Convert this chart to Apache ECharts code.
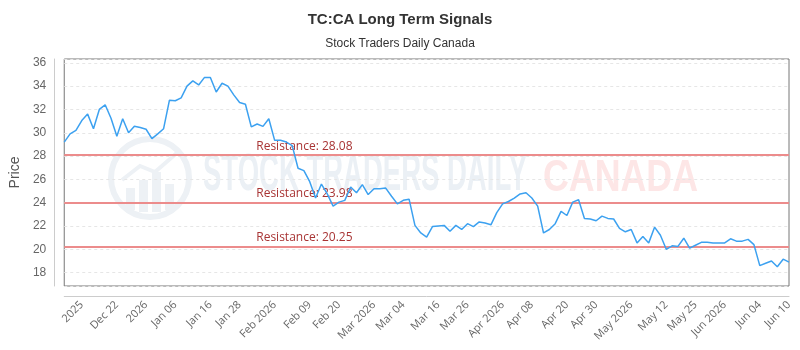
<!DOCTYPE html>
<html>
<head>
<meta charset="utf-8">
<script src="https://cdn.jsdelivr.net/npm/echarts@6/dist/echarts.min.js"></script>
<style>
html, body { margin: 0; padding: 0; background: #fff; }
#main { width: 800px; height: 350px; }
</style>
</head>
<body>
<div id="main"></div>
<script>
// 收盘价
const price = [
    29.2, 29.9, 30.2, 31.05, 31.6, 30.35, 32.0, 32.4, 31.25, 29.7,
    31.2, 30.0, 30.55, 30.45, 30.3, 29.5, 29.9, 30.35, 32.8, 32.75,
    33.0, 34.0, 34.45, 34.1, 34.75, 34.75, 33.5, 34.25, 34.0, 33.25,
    32.6, 32.45, 30.5, 30.75, 30.55, 31.2, 29.35, 29.35, 29.2, 28.9,
    26.95, 26.75, 25.8, 24.4, 25.6, 24.75, 23.7, 24.05, 24.2, 25.35,
    24.85, 25.55, 24.7, 25.2, 25.2, 25.25, 24.55, 23.9, 24.2, 24.3,
    22.05, 21.4, 21.05, 21.95, 22.0, 22.05, 21.55, 22.05, 21.7, 22.2,
    21.95, 22.35, 22.25, 22.1, 23.15, 23.9, 24.1, 24.4, 24.75, 24.85,
    24.4, 23.7, 21.4, 21.7, 22.2, 23.25, 22.9, 24.05, 24.25, 22.65,
    22.6, 22.45, 22.85, 22.65, 22.6, 21.8, 21.5, 21.7, 20.55, 21.1,
    20.55, 21.9, 21.2, 20.0, 20.3, 20.25, 20.95, 20.1, 20.35, 20.6,
    20.6, 20.55, 20.55, 20.55, 20.9, 20.7, 20.7, 20.85, 20.4, 18.6,
    18.8, 19.0, 18.5, 19.15, 18.9
];
// x轴标签所在的点和文字
const tickIndex = [3, 9, 14, 19, 25, 30, 36, 42, 47, 53, 58, 64, 69, 75, 80, 86, 91, 97, 103, 108, 113, 119, 124];
const tickText = ['2025', 'Dec 22', '2026', 'Jan 06', 'Jan 16', 'Jan 28', 'Feb 2026', 'Feb 09', 'Feb 20',
    'Mar 2026', 'Mar 04', 'Mar 16', 'Mar 26', 'Apr 2026', 'Apr 08', 'Apr 20', 'Apr 30',
    'May 2026', 'May 12', 'May 25', 'Jun 2026', 'Jun 04', 'Jun 10'];
// 阻力位
const resistance = [28.08, 23.98, 20.25];

const categories = price.map((v, i) => {
    let k = tickIndex.indexOf(i);
    return k >= 0 ? tickText[k] : '';
});

// 水印文字按宽度压缩
function fitScale(text, font, target) {
    let ctx = document.createElement('canvas').getContext('2d');
    ctx.font = font;
    return target / ctx.measureText(text).width;
}
const wmFont = 'bold 52px "Liberation Sans Narrow", "Liberation Sans", sans-serif';
const caFont = 'bold 44px "Liberation Sans", sans-serif';

let mychart = echarts.init(document.getElementById('main'));
mychart.setOption({
    animation: false,
    title: [
        {
            text: 'TC:CA Long Term Signals',
            left: 'center',
            top: 7,
            textStyle: {
                fontFamily: '"Liberation Sans Narrow", "Liberation Sans", sans-serif',
                fontSize: 15,
                fontWeight: 'bold',
                color: '#333'
            }
        },
        {
            text: 'Stock Traders Daily Canada',
            left: 'center',
            top: 33,
            textStyle: {
                fontFamily: '"Liberation Sans Narrow", "Liberation Sans", sans-serif',
                fontSize: 12,
                fontWeight: 'normal',
                color: '#333'
            }
        }
    ],
    graphic: [
        {
            type: 'circle',
            z: -10,
            shape: { cx: 150, cy: 178, r: 39 },
            style: { fill: 'none', stroke: '#edf1f5', lineWidth: 6 }
        },
        { type: 'rect', z: -10, shape: { x: 126, y: 188, width: 9, height: 22 }, style: { fill: '#edf1f5' } },
        { type: 'rect', z: -10, shape: { x: 139, y: 180, width: 9, height: 32 }, style: { fill: '#edf1f5' } },
        { type: 'rect', z: -10, shape: { x: 152, y: 172, width: 9, height: 40 }, style: { fill: '#edf1f5' } },
        { type: 'rect', z: -10, shape: { x: 165, y: 184, width: 9, height: 26 }, style: { fill: '#edf1f5' } },
        {
            type: 'polyline',
            z: -10,
            shape: { points: [[122, 180], [140, 166], [155, 172], [178, 152]] },
            style: { stroke: '#edf1f5', lineWidth: 4, fill: 'none' }
        },
        {
            type: 'text',
            z: -10,
            x: 203,
            y: 176,
            scaleX: fitScale('STOCK TRADERS DAILY', wmFont, 324),
            style: {
                text: 'STOCK TRADERS DAILY',
                font: wmFont,
                fill: '#ebf0f5',
                verticalAlign: 'middle'
            }
        },
        {
            type: 'text',
            z: -10,
            x: 543,
            y: 179,
            scaleX: fitScale('CANADA', caFont, 155),
            style: {
                text: 'CANADA',
                font: caFont,
                fill: '#fde6e6',
                verticalAlign: 'middle'
            }
        }
    ],
    grid: {
        show: true,
        left: 61,
        right: 11,
        top: 59,
        bottom: 64,
        borderColor: '#777',
        borderWidth: 1
    },
    xAxis: {
        type: 'category',
        boundaryGap: false,
        data: categories,
        offset: 10,
        axisLine: { lineStyle: { color: '#ccc' } },
        axisTick: { show: false },
        axisLabel: {
            interval: 0,
            rotate: 45,
            margin: 7,
            fontSize: 11,
            color: '#666',
            fontFamily: '"Open Sans", sans-serif'
        },
        splitLine: { show: false }
    },
    yAxis: {
        type: 'value',
        min: 16.85,
        max: 36.33,
        splitNumber: 10,
        offset: 10,
        name: 'Price',
        nameLocation: 'middle',
        nameGap: 28,
        nameTextStyle: { fontSize: 14, color: '#555', fontFamily: '"Liberation Sans", sans-serif' },
        axisLine: { show: true, lineStyle: { color: '#ccc' } },
        axisTick: { show: false },
        axisLabel: {
            margin: 8,
            fontSize: 12,
            color: '#666',
            fontFamily: '"Liberation Sans", sans-serif',
            showMinLabel: false,
            showMaxLabel: false,
            formatter: function (v) {
                return Number.isInteger(v) ? String(v) : '';
            }
        },
        splitLine: { show: true, lineStyle: { color: '#e6e6e6', type: [3, 3] } }
    },
    series: [
        {
            type: 'line',
            data: price,
            symbol: 'none',
            z: 5,
            lineStyle: { color: '#3ca1f0', width: 1.5 },
            markLine: {
                silent: true,
                symbol: 'none',
                animation: false,
                lineStyle: { color: '#ec8c8c', width: 2, type: 'solid' },
                label: {
                    position: 'insideStartTop',
                    padding: [0, 0, 0, 189],
                    distance: 3,
                    fontSize: 12,
                    color: '#a83434',
                    fontFamily: '"Open Sans", sans-serif',
                    formatter: function (p) {
                        return 'Resistance: ' + p.value.toFixed(2);
                    }
                },
                data: resistance.map(v => ({ yAxis: v }))
            }
        }
    ]
});
</script>
</body>
</html>
